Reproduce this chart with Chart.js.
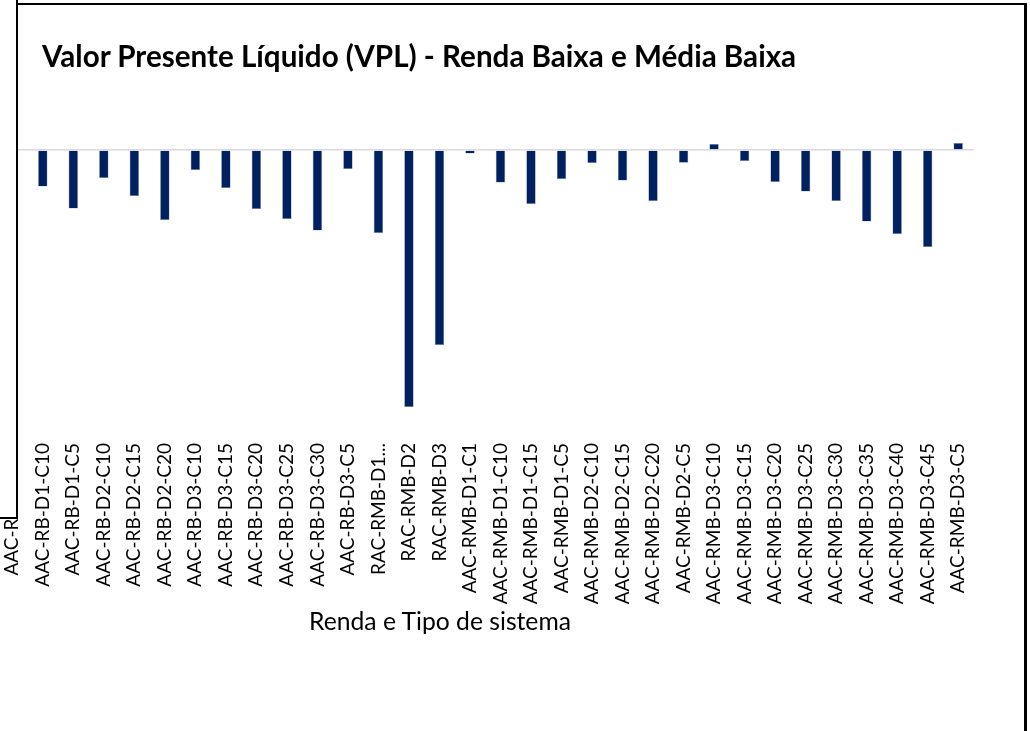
<!DOCTYPE html>
<html>
<head>
<meta charset="utf-8">
<script src="https://cdn.jsdelivr.net/npm/chart.js@4.4.1/dist/chart.umd.min.js"></script>
<style>
  html, body { margin: 0; padding: 0; background: #fff; }
  #page { position: relative; width: 1030px; height: 731px; overflow: hidden; background: #fff; }
  #frame { position: absolute; left: 17px; top: 3px; width: 1007px; height: 800px;
           border-top: 2px solid #000; border-right: 3px solid #000; }
  #wrap { position: absolute; left: -3px; top: 0; width: 987px; height: 731px; }
  #cover { position: absolute; left: -2px; top: -2px; width: 18px; height: 519px;
           background: #fff; border-right: 2px solid #000; border-bottom: 2px solid #000; }
  .txt { position: absolute; white-space: nowrap; color: #000; font-family: Lato, sans-serif; }
  #title { left: 42px; top: 38px; font-size: 29.6px; font-weight: bold; }
  #xtitle { left: 309px; top: 606px; font-size: 24.7px; }
</style>
</head>
<body>
<div id="page">
  <div id="frame"></div>
  <div id="wrap"><canvas id="vpl"></canvas></div>
  <div id="cover"></div>
  <div class="txt" id="title">Valor Presente Líquido (VPL) - Renda Baixa e Média Baixa</div>
  <div class="txt" id="xtitle">Renda e Tipo de sistema</div>
</div>
<script>
const categorias = [
  'AAC-RB-D1-C1', 'AAC-RB-D1-C10', 'AAC-RB-D1-C5', 'AAC-RB-D2-C10', 'AAC-RB-D2-C15',
  'AAC-RB-D2-C20', 'AAC-RB-D3-C10', 'AAC-RB-D3-C15', 'AAC-RB-D3-C20', 'AAC-RB-D3-C25',
  'AAC-RB-D3-C30', 'AAC-RB-D3-C5', 'RAC-RMB-D1...', 'RAC-RMB-D2', 'RAC-RMB-D3',
  'AAC-RMB-D1-C1', 'AAC-RMB-D1-C10', 'AAC-RMB-D1-C15', 'AAC-RMB-D1-C5', 'AAC-RMB-D2-C10',
  'AAC-RMB-D2-C15', 'AAC-RMB-D2-C20', 'AAC-RMB-D2-C5', 'AAC-RMB-D3-C10', 'AAC-RMB-D3-C15',
  'AAC-RMB-D3-C20', 'AAC-RMB-D3-C25', 'AAC-RMB-D3-C30', 'AAC-RMB-D3-C35', 'AAC-RMB-D3-C40',
  'AAC-RMB-D3-C45', 'AAC-RMB-D3-C5'
];

// VPL (escala relativa); a primeira barra fica escondida
const vpl = [
  null, -36.5, -58.5, -28, -46,
  -70, -20, -38, -59, -69,
  -80.5, -19, -83, -257, -195,
  -3.5, -32.5, -54, -29, -13,
  -30.5, -51, -12.8, 6, -11,
  -32, -41.5, -51, -71.5, -84,
  -97, 7
];

const yMin = -290;
const yMax = 10;

new Chart(document.getElementById('vpl'), {
  type: 'bar',
  data: {
    labels: categorias,
    datasets: [{
      label: 'VPL',
      data: vpl,
      backgroundColor: '#002060',
      borderColor: '#8a9bbd',
      borderWidth: 0.6,
      categoryPercentage: 1,
      barPercentage: 0.31
    }]
  },
  options: {
    responsive: true,
    maintainAspectRatio: false,
    animation: false,
    layout: { padding: { top: 140, bottom: 0, left: 0, right: 0 } },
    plugins: {
      legend: { display: false },
      title: { display: false },
      tooltip: { enabled: false }
    },
    scales: {
      x: {
        border: { display: false },
        grid: { display: false, drawTicks: false },
        ticks: {
          autoSkip: false,
          minRotation: 90,
          maxRotation: 90,
          padding: 3,
          color: '#000',
          font: { family: 'Lato', size: 19 }
        },
        afterFit: (scale) => { scale.height = 291; }
      },
      y: {
        min: yMin,
        max: yMax,
        border: { display: false },
        grid: {
          drawTicks: false,
          lineWidth: 1.5,
          color: (ctx) => (ctx.tick && ctx.tick.value === 0 ? '#d9d9d9' : 'rgba(0,0,0,0)')
        },
        ticks: { display: false, stepSize: 10 },
        afterFit: (scale) => { scale.width = 0; }
      }
    }
  }
});
</script>
</body>
</html>
